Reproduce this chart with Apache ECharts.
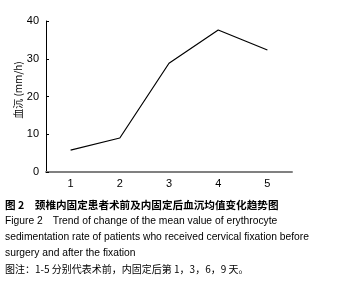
<!DOCTYPE html>
<html><head><meta charset="utf-8">
<script src="https://cdn.jsdelivr.net/npm/echarts@6/dist/echarts.min.js"></script>
<style>html,body{margin:0;padding:0;background:#fff}#c{width:337px;height:292px}</style>
</head><body><div id="c"></div>
<script>
const categories = ['1','2','3','4','5'];
const esrValues = [5.8, 9.0, 28.8, 37.6, 32.3];
const yTicks = [0, 10, 20, 30, 40];
const yAxisName = '血沉 (mm/h)';
const captionLines = [
  '图 2　颈椎内固定患者术前及内固定后血沉均值变化趋势图',
  'Figure 2　Trend of change of the mean value of erythrocyte',
  'sedimentation rate of patients who received cervical fixation before',
  'surgery and after the fixation',
  '图注：1-5 分别代表术前，内固定后第 1，3，6，9 天。'
];
const chart = echarts.init(document.getElementById('c'), null, {renderer:'canvas'});
const fontEn = 'Liberation Sans, Arial, sans-serif';
const fontCn = 'Noto Sans CJK SC, sans-serif';
const captionFonts = ['bold 10.6px '+fontCn, '10.3px '+fontEn, '10.3px '+fontEn, '10.3px '+fontEn, '10px '+fontCn];
const captionTops = [200, 216, 232, 248, 264];
chart.setOption({
  animation:false,
  grid:{left:46,right:45,top:21,bottom:120},
  xAxis:{type:'category',data:categories,boundaryGap:true,
    axisLine:{lineStyle:{color:'#808080',width:2}},
    axisTick:{show:false},
    axisLabel:{color:'#000',fontSize:11,fontFamily:fontEn,margin:6}},
  yAxis:{type:'value',min:yTicks[0],max:yTicks[yTicks.length-1],interval:10,
    axisLine:{show:true,lineStyle:{color:'#000',width:1}},
    axisTick:{show:true,inside:true,length:3,lineStyle:{color:'#000'}},
    splitLine:{show:false},
    axisLabel:{color:'#000',fontSize:11,fontFamily:fontEn,margin:7}},
  series:[{type:'line',data:esrValues,symbol:'none',
    lineStyle:{color:'#000',width:1.2}}],
  graphic:captionLines.map((t,i)=>({type:'text',left:5,top:captionTops[i],
    style:{text:t,fill:'#000',font:captionFonts[i]}})).concat([
    {type:'text',x:18,y:90,rotation:Math.PI/2,
      style:{text:yAxisName,fill:'#000',font:'10px '+fontCn,align:'center',verticalAlign:'middle'}}
  ])
});
</script></body></html>
